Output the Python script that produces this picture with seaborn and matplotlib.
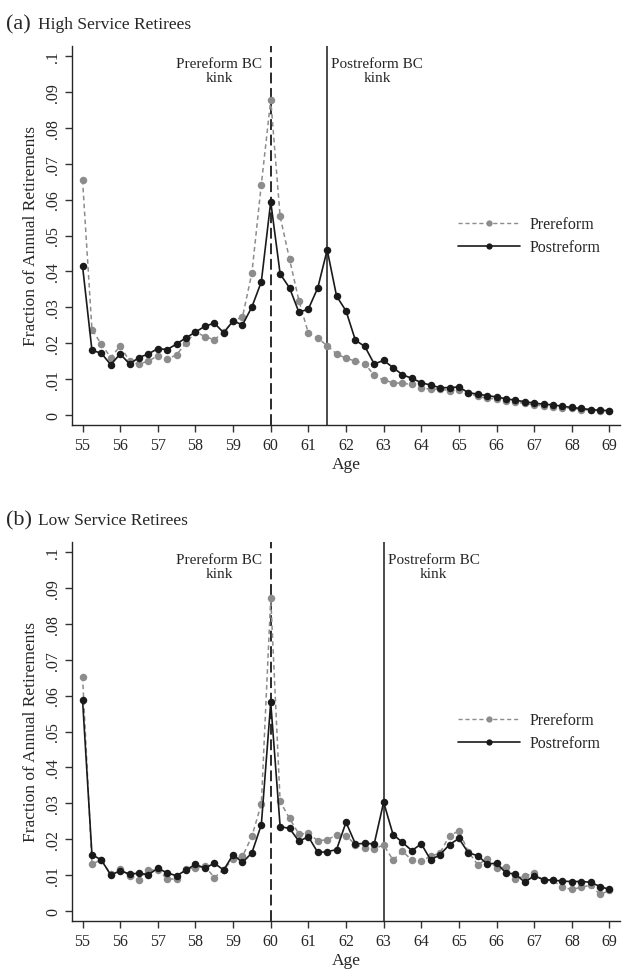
import numpy as np
import pandas as pd
import matplotlib
matplotlib.use("Agg")
import matplotlib.pyplot as plt
import matplotlib.transforms as mtransforms
from matplotlib.lines import Line2D
import seaborn as sns

# ---------------- data ----------------
ages = np.arange(55, 69.01, 0.25)

high_pre = [0.0655, 0.0238, 0.0197, 0.0160, 0.0192, 0.0150, 0.0142, 0.0150,
            0.0165, 0.0155, 0.0168, 0.0201, 0.0232, 0.0218, 0.0210, 0.0230,
            0.0262, 0.0273, 0.0396, 0.0642, 0.0878, 0.0553, 0.0434, 0.0318,
            0.0228, 0.0214, 0.0193, 0.0170, 0.0158, 0.0150, 0.0143, 0.0110,
            0.0097, 0.0090, 0.0088, 0.0085, 0.0075, 0.0072, 0.0072, 0.0068,
            0.0070, 0.0060, 0.0052, 0.0046, 0.0045, 0.0040, 0.0036, 0.0032,
            0.0028, 0.0025, 0.0022, 0.0020, 0.0018, 0.0015, 0.0013, 0.0011,
            0.0010]
high_post = [0.0415, 0.0180, 0.0172, 0.0140, 0.0170, 0.0142, 0.0160, 0.0170,
             0.0185, 0.0182, 0.0198, 0.0215, 0.0231, 0.0247, 0.0256, 0.0229,
             0.0262, 0.0251, 0.0301, 0.0371, 0.0594, 0.0393, 0.0354, 0.0286,
             0.0295, 0.0354, 0.0460, 0.0331, 0.0290, 0.0208, 0.0191, 0.0142,
             0.0152, 0.0132, 0.0112, 0.0102, 0.0090, 0.0083, 0.0076, 0.0076,
             0.0078, 0.0062, 0.0058, 0.0054, 0.0050, 0.0045, 0.0041, 0.0037,
             0.0033, 0.0030, 0.0028, 0.0024, 0.0021, 0.0018, 0.0015, 0.0013,
             0.0012]
low_pre = [0.0653, 0.0131, 0.0142, 0.0102, 0.0118, 0.0098, 0.0087, 0.0114,
           0.0115, 0.0089, 0.0089, 0.0118, 0.0119, 0.0125, 0.0093, 0.0115,
           0.0145, 0.0152, 0.0208, 0.0298, 0.0872, 0.0305, 0.0258, 0.0214,
           0.0216, 0.0196, 0.0198, 0.0212, 0.0210, 0.0185, 0.0175, 0.0173,
           0.0184, 0.0142, 0.0166, 0.0142, 0.0140, 0.0152, 0.0162, 0.0210,
           0.0223, 0.0165, 0.0129, 0.0145, 0.0120, 0.0122, 0.0089, 0.0098,
           0.0105, 0.0085, 0.0085, 0.0066, 0.0060, 0.0066, 0.0072, 0.0046,
           0.0057]
low_post = [0.0589, 0.0157, 0.0142, 0.0100, 0.0112, 0.0103, 0.0105, 0.0101,
            0.0119, 0.0106, 0.0098, 0.0114, 0.0130, 0.0119, 0.0133, 0.0114,
            0.0157, 0.0135, 0.0162, 0.0240, 0.0581, 0.0235, 0.0230, 0.0194,
            0.0207, 0.0163, 0.0165, 0.0171, 0.0247, 0.0187, 0.0188, 0.0187,
            0.0303, 0.0213, 0.0191, 0.0168, 0.0187, 0.0142, 0.0157, 0.0185,
            0.0202, 0.0162, 0.0154, 0.0131, 0.0133, 0.0106, 0.0103, 0.0080,
            0.0098, 0.0087, 0.0086, 0.0083, 0.0082, 0.0082, 0.0080, 0.0068,
            0.0060]

panel_letters = ["(a)", "(b)"]
panel_titles = ["High Service Retirees", "Low Service Retirees"]
pre_kink = [60, 60]
post_kink = [61.5, 63]
series_labels = ["Prereform", "Postreform"]
x_ticks = list(range(55, 70))
y_ticks = [0, 0.01, 0.02, 0.03, 0.04, 0.05, 0.06, 0.07, 0.08, 0.09, 0.1]
y_ticklabels = ["0", ".01", ".02", ".03", ".04", ".05", ".06", ".07", ".08", ".09", ".1"]

# ---------------- style ----------------
sns.set_style("ticks")
plt.rcParams["font.family"] = ["Liberation Serif", "DejaVu Serif"]
plt.rcParams["axes.linewidth"] = 1.0

PRE_COLOR = "#8c8c8c"
POST_COLOR = "#1a1a1a"

W, H = 622, 979
fig = plt.figure(figsize=(W / 100, H / 100), dpi=100)

panels = [(high_pre, high_post), (low_pre, low_post)]
offset = 496
for i, (pre, post) in enumerate(panels):
    top_px = 47 + i * offset
    bot_px = 426 + i * offset
    ax = fig.add_axes([72 / W, 1 - bot_px / H, 548 / W, (bot_px - top_px) / H])

    df = pd.DataFrame({"age": ages, "pre": pre, "post": post})
    sns.lineplot(data=df, x="age", y="pre", ax=ax, color=PRE_COLOR, lw=1.1,
                 linestyle=(0, (3, 2.2)), marker="o", markersize=5.4,
                 markeredgewidth=0, label=series_labels[0])
    sns.lineplot(data=df, x="age", y="post", ax=ax, color=POST_COLOR, lw=1.2,
                 marker="o", markersize=5.4, markeredgewidth=0,
                 label=series_labels[1])

    ax.axvline(pre_kink[i], color=POST_COLOR, lw=1.3, linestyle=(0, (6, 2.6)), zorder=1)
    ax.axvline(post_kink[i], color=POST_COLOR, lw=1.1, zorder=1)

    ax.set_xlim(54.72, 69.28)
    ax.set_ylim(-0.0028, 0.1028)
    ax.set_xticks(x_ticks)
    ax.set_yticks(y_ticks)
    ax.set_yticklabels(y_ticklabels, rotation=90, va="center")
    ax.tick_params(axis="both", labelsize=11.5, length=5, width=1.0, color="#333333")
    ax.tick_params(axis="y", pad=3)
    sns.despine(ax=ax)
    ax.set_xlabel("Age", fontsize=12.5, labelpad=2)
    ax.set_ylabel("Fraction of Annual Retirements", fontsize=12.5, labelpad=4)

    trans = mtransforms.blended_transform_factory(ax.transData, ax.transAxes)
    ax.annotate("Prereform BC\nkink", xy=(pre_kink[i], 0.972), xycoords=trans,
                xytext=(-6, 0), textcoords="offset points", ha="right", va="top",
                multialignment="center", fontsize=11, linespacing=1.1)
    ax.annotate("Postreform BC\nkink", xy=(post_kink[i], 0.972), xycoords=trans,
                xytext=(3, 0), textcoords="offset points", ha="left", va="top",
                multialignment="center", fontsize=11, linespacing=1.1)

    handles = [
        Line2D([], [], color=PRE_COLOR, lw=1.0, linestyle=(0, (3, 2)), marker="o",
               markersize=4.5, markeredgewidth=0),
        Line2D([], [], color=POST_COLOR, lw=1.2, marker="o", markersize=4.5,
               markeredgewidth=0),
    ]
    ax.legend(handles, series_labels, loc="center left",
              bbox_to_anchor=(0.704, 0.499), frameon=False, fontsize=11.5,
              handlelength=3.9, handletextpad=0.6, labelspacing=0.45,
              borderpad=0, borderaxespad=0, numpoints=1)

    base_y = 1 - (29 + i * offset) / H
    fig.text(6 / W, base_y, panel_letters[i], fontsize=16, va="baseline", ha="left")
    fig.text(38 / W, base_y, panel_titles[i], fontsize=12.5, va="baseline", ha="left")

fig.savefig("out.png", dpi=100)
